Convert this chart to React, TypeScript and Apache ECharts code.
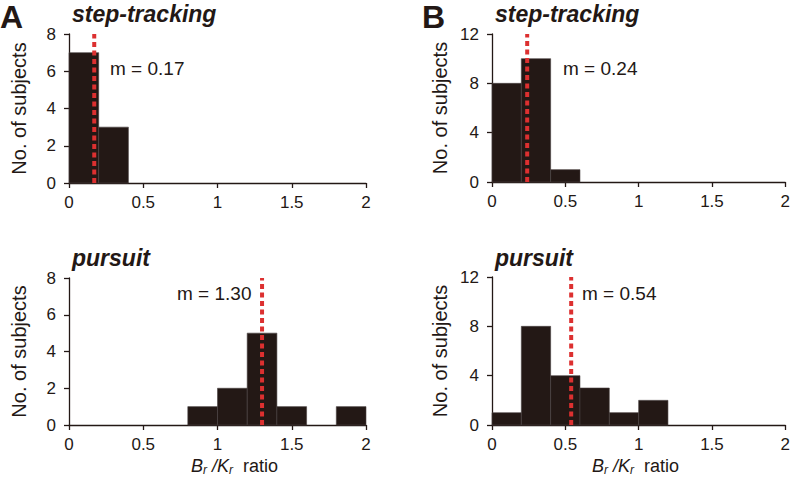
import React, { useEffect, useRef } from "react";
import * as echarts from "echarts";

const binEdges = [0, 0.2, 0.4, 0.6, 0.8, 1.0, 1.2, 1.4, 1.6, 1.8, 2.0];
const xTicks = [0, 0.5, 1, 1.5, 2];

const countsAStep = [7, 3, 0, 0, 0, 0, 0, 0, 0, 0];
const countsAPursuit = [0, 0, 0, 0, 1, 2, 5, 1, 0, 1];
const countsBStep = [8, 10, 1, 0, 0, 0, 0, 0, 0, 0];
const countsBPursuit = [1, 8, 4, 3, 1, 2, 0, 0, 0, 0];

const meanAStep = 0.17;
const meanAPursuit = 1.3;
const meanBStep = 0.24;
const meanBPursuit = 0.54;

const meanLabels = ["m = 0.17", "m = 1.30", "m = 0.24", "m = 0.54"];
const panelTitles = ["step-tracking", "pursuit", "step-tracking", "pursuit"];
const yMaxA = 8;
const yIntA = 2;
const yMaxB = 12;
const yIntB = 4;

const FONT = 'Arial, "Liberation Sans", Helvetica, sans-serif';
const INK = "#231815";
const RED = "#dc3030";

function binData(counts: number[]) {
  return counts.map((c, i) => [binEdges[i], binEdges[i + 1], c]);
}

export default function App() {
  const ref = useRef<HTMLDivElement>(null);
  useEffect(() => {
    if (!ref.current) return;
    const chart = echarts.init(ref.current, null, { renderer: "svg" });

    const grids = [
      { left: 69, top: 34, width: 297, height: 149 },
      { left: 69, top: 278, width: 297, height: 147 },
      { left: 492, top: 34, width: 296, height: 148 },
      { left: 492, top: 277, width: 296, height: 148 },
    ];
    const yMax = [yMaxA, yMaxA, yMaxB, yMaxB];
    const yInt = [yIntA, yIntA, yIntB, yIntB];
    const nameGaps = [40, 40, 42, 42];
    const counts = [countsAStep, countsAPursuit, countsBStep, countsBPursuit];
    const means = [meanAStep, meanAPursuit, meanBStep, meanBPursuit];

    const axisLine = { show: true, lineStyle: { color: INK, width: 1.3 } };
    const axisTick = { show: true, length: 5, lineStyle: { color: INK, width: 1.3 } };

    const xAxis = grids.map((_, i) => ({
      type: "value",
      gridIndex: i,
      min: xTicks[0],
      max: xTicks[xTicks.length - 1],
      interval: xTicks[1] - xTicks[0],
      axisLine,
      axisTick,
      splitLine: { show: false },
      axisLabel: { fontSize: 17, color: INK, fontFamily: FONT, margin: 11 },
    }));
    const yAxis = grids.map((_, i) => ({
      type: "value",
      gridIndex: i,
      min: 0,
      max: yMax[i],
      interval: yInt[i],
      axisLine,
      axisTick,
      splitLine: { show: false },
      axisLabel: { fontSize: 17, color: INK, fontFamily: FONT, margin: 13 },
      name: "No. of subjects",
      nameLocation: "middle",
      nameRotate: 90,
      nameGap: nameGaps[i],
      nameTextStyle: { fontSize: 20, color: INK, fontFamily: FONT },
    }));

    const series: any[] = [];
    grids.forEach((_, i) => {
      series.push({
        type: "custom",
        xAxisIndex: i,
        yAxisIndex: i,
        data: binData(counts[i]),
        encode: { x: [0, 1], y: 2 },
        renderItem: (params: any, api: any) => {
          const x0 = api.value(0);
          const x1 = api.value(1);
          const c = api.value(2);
          if (!c) return null;
          const p0 = api.coord([x0, c]);
          const p1 = api.coord([x1, 0]);
          return {
            type: "rect",
            shape: { x: p0[0], y: p0[1], width: p1[0] - p0[0], height: p1[1] - p0[1] },
            style: { fill: INK, stroke: "#4a4242", lineWidth: 0.6 },
          };
        },
        z: 2,
      });
      series.push({
        type: "line",
        xAxisIndex: i,
        yAxisIndex: i,
        data: [
          [means[i], 0],
          [means[i], yMax[i]],
        ],
        symbol: "none",
        lineStyle: { color: RED, width: 4, type: [5, 3.5], cap: "butt" },
        z: 5,
      });
    });

    const txt = (x: number, y: number, text: string, extra: any) => ({
      type: "text",
      x,
      y,
      style: {
        text,
        fill: INK,
        fontFamily: FONT,
        verticalAlign: "middle",
        align: "left",
        ...extra,
      },
    });

    const ratioRich = {
      i: { fontSize: 18, fontStyle: "italic", fontFamily: FONT, color: INK, lineHeight: 20 },
      s: { fontSize: 12, fontStyle: "italic", fontFamily: FONT, color: INK, lineHeight: 12, verticalAlign: "bottom" },
      n: { fontSize: 18, fontFamily: FONT, color: INK, lineHeight: 20 },
    };
    const ratioText = "{i|B}{s|r}{i| /K}{s|r}{n|  ratio}";

    const titleStyle = { fontSize: 23, fontWeight: "bold", fontStyle: "italic" };

    const graphic = [
      txt(0, 17, "A", { fontSize: 32, fontWeight: "bold" }),
      txt(422, 17, "B", { fontSize: 32, fontWeight: "bold" }),
      txt(72, 14, panelTitles[0], titleStyle),
      txt(72, 258, panelTitles[1], titleStyle),
      txt(495, 14, panelTitles[2], titleStyle),
      txt(495, 258, panelTitles[3], titleStyle),
      txt(110, 68, meanLabels[0], { fontSize: 19 }),
      txt(177, 293, meanLabels[1], { fontSize: 19 }),
      txt(563, 68, meanLabels[2], { fontSize: 19 }),
      txt(582, 293, meanLabels[3], { fontSize: 19 }),
      txt(191, 466, ratioText, { rich: ratioRich }),
      txt(592, 466, ratioText, { rich: ratioRich }),
    ];

    chart.setOption({
      animation: false,
      backgroundColor: "#ffffff",
      grid: grids,
      xAxis,
      yAxis,
      series,
      graphic,
    } as any);

    return () => chart.dispose();
  }, []);

  return (
    <div
      ref={ref}
      style={{ position: "absolute", left: 0, top: 0, width: 793, height: 478 }}
    />
  );
}
